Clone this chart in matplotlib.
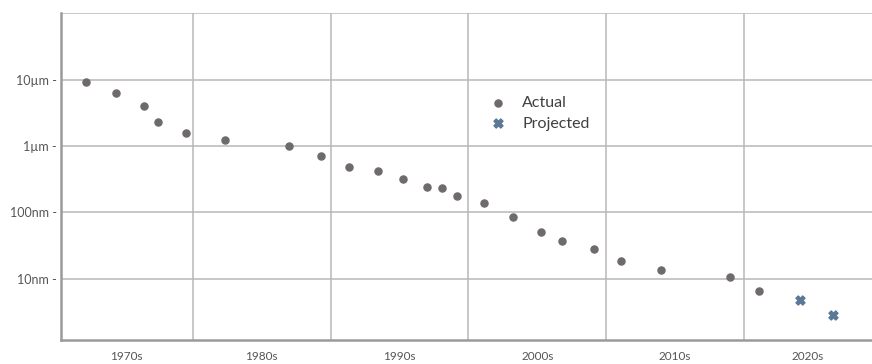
import matplotlib.pyplot as plt

# feature size in nm, x = year
actual_year = [1972.25, 1974.4, 1976.45, 1977.45, 1979.5, 1982.3, 1987.0, 1989.3,
               1991.3, 1993.4, 1995.25, 1997.0, 1998.1, 1999.15, 2001.1, 2003.25,
               2005.3, 2006.8, 2009.1, 2011.05, 2014.0, 2019.0, 2021.1]
actual_nm = [9330, 6310, 4020, 2310, 1575, 1250, 1000, 700, 490, 427, 316, 242, 236,
             175, 140, 86.5, 51.4, 37.6, 27.9, 18.6, 13.8, 10.6, 6.6]
proj_year = [2024.05, 2026.45]
proj_nm = [4.8, 2.83]

ytick_vals = [10000, 1000, 100, 10]
ytick_labels = ['10µm -', '1µm -', '100nm -', '10nm -']
decades = [1970, 1980, 1990, 2000, 2010, 2020]
decade_labels = ['1970s', '1980s', '1990s', '2000s', '2010s', '2020s']

plt.rcParams['font.family'] = ['Lato', 'DejaVu Sans']

fig = plt.figure(figsize=(8.72, 3.64), dpi=100)
ax = fig.add_axes([0.0696, 0.066, 0.9304, 0.898])

xmin, xmax = 1970.4, 2029.3
ax.set_xlim(xmin, xmax)
ax.set_yscale('log')
ax.set_ylim(1.2, 1e5)

grid_c = '#b8b8b8'
for d in decades[1:]:
    ax.axvline(d, color=grid_c, lw=1.1, zorder=0)
for v in ytick_vals + [1e5]:
    ax.axhline(v, color=grid_c, lw=1.1, zorder=0)

ax.scatter(actual_year, actual_nm, s=26, color='#706b6b', label='Actual', zorder=3)
ax.scatter(proj_year, proj_nm, s=42, marker='X', color='#5b7897', label='Projected', zorder=3)

ax.set_yticks(ytick_vals)
ax.set_yticklabels(ytick_labels)
ax.yaxis.set_minor_locator(plt.NullLocator())
centers = [(max(d, xmin) + min(d + 10, xmax)) / 2 for d in decades]
ax.set_xticks(centers)
ax.set_xticklabels(decade_labels)
ax.tick_params(axis='both', length=0, labelcolor='#555555')
ax.tick_params(axis='x', pad=8, labelsize=8.5)
ax.tick_params(axis='y', pad=3, labelsize=9)

for s in ['top', 'right']:
    ax.spines[s].set_visible(False)
for s in ['left', 'bottom']:
    ax.spines[s].set_color('#9a9a9a')
    ax.spines[s].set_linewidth(1.8)

leg = ax.legend(loc='center left', bbox_to_anchor=(0.511, 0.694), frameon=False,
                fontsize=11.5, handletextpad=0.55, labelspacing=0.4, borderaxespad=0)
for t in leg.get_texts():
    t.set_color('#404040')

fig.savefig('out.png', dpi=100)
